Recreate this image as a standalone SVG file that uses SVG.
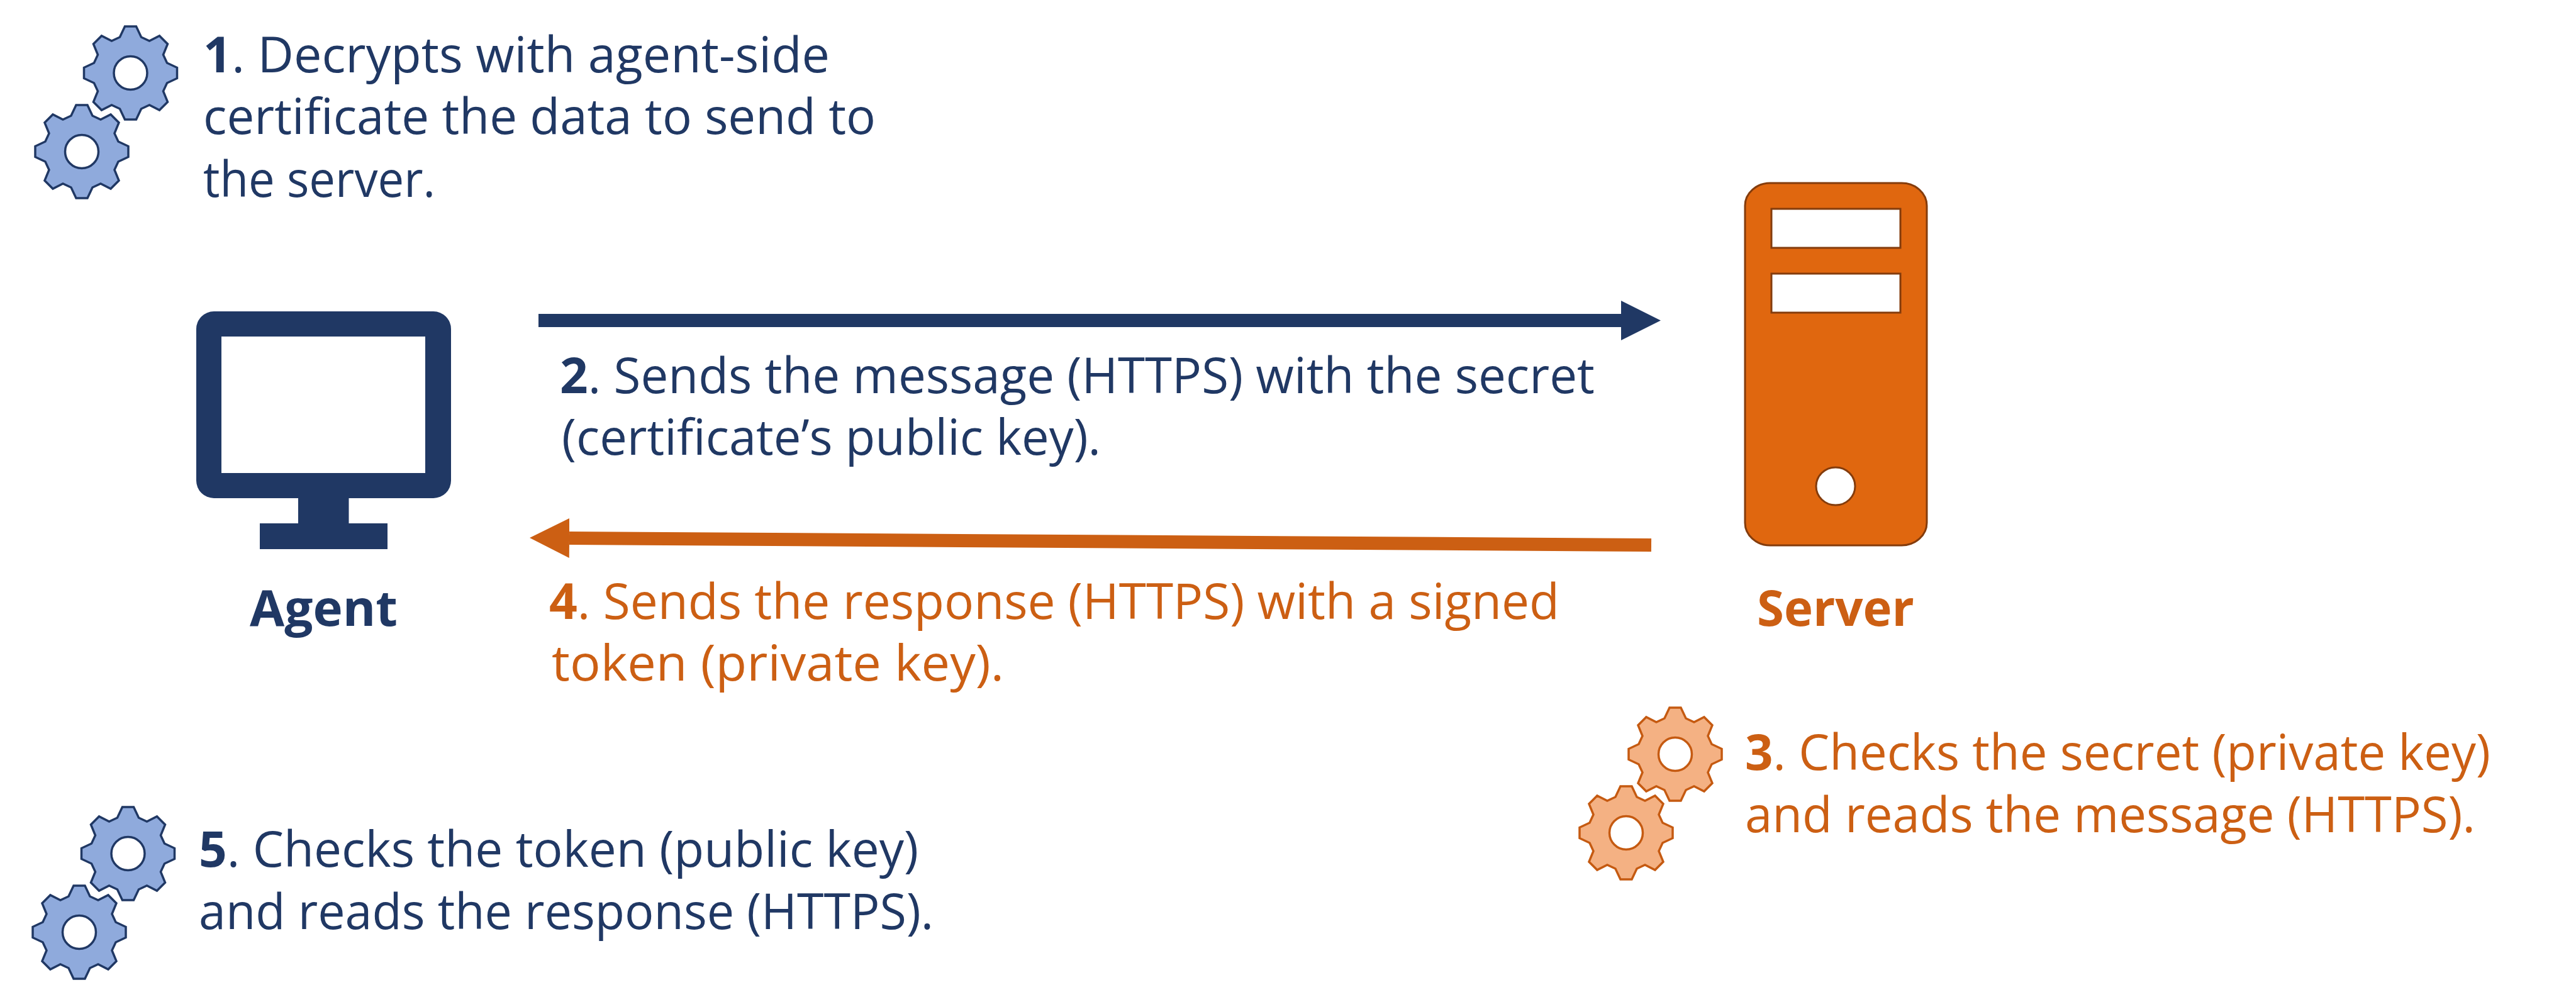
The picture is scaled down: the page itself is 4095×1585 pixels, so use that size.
<svg xmlns="http://www.w3.org/2000/svg" xmlns:xlink="http://www.w3.org/1999/xlink" width="4095" height="1585" viewBox="0 0 4095 1585">
<style>
text{font-family:"Open Sans","Noto Sans","Liberation Sans",sans-serif;font-size:79px}
.n{fill:#203864}.o{fill:#cc5f13}
.b{font-weight:700}
.gb{fill:#8faadc;stroke:#203864;stroke-width:3.5}
.go{fill:#f4b183;stroke:#c55a11;stroke-width:3.5}
.hb{fill:#fff;stroke:#203864;stroke-width:3.5}
.ho{fill:#fff;stroke:#c55a11;stroke-width:3.5}
.srv{fill:#e0670f;stroke:#843c0c;stroke-width:3}
.win{fill:#fff;stroke:#843c0c;stroke-width:3}
.arr{fill:none;stroke-width:21}
</style>
<defs>
<polygon id="gear" points="-9,-74 9,-74 17,-57 30,-51 46,-59 59,-46 52,-29 58,-16 74,-8.5 74,8.5 58,16 52,29 59,46 46,59 30,51 17,57 9,74 -9,74 -17,57 -30,51 -46,59 -59,46 -52,29 -58,16 -74,8.5 -74,-8.5 -58,-16 -52,-29 -59,-46 -46,-59 -30,-51 -17,-57"/>
<marker id="hn" markerUnits="userSpaceOnUse" markerWidth="63" markerHeight="63" viewBox="0 0 63 63" refX="0" refY="31.5" orient="auto"><path d="M0,0L63,31.5L0,63Z" fill="#203864"/></marker>
<marker id="ho" markerUnits="userSpaceOnUse" markerWidth="63" markerHeight="63" viewBox="0 0 63 63" refX="0" refY="31.5" orient="auto"><path d="M0,0L63,31.5L0,63Z" fill="#cc5f13"/></marker>
</defs>
<rect width="4095" height="1585" fill="#fff"/>
<g id="connectors">
<line class="arr" x1="856" y1="509.5" x2="2577" y2="509.5" stroke="#203864" marker-end="url(#hn)"/>
<line class="arr" x1="2625" y1="866.5" x2="905" y2="855.5" stroke="#cc5f13" marker-end="url(#ho)"/>
</g>
<g id="agent">
<path class="n" fill-rule="evenodd" d="M340,495H689A28,28 0 0 1 717,523V764A28,28 0 0 1 689,792H554.500V832H616V873H413V832H474V792H340A28,28 0 0 1 312,764V523A28,28 0 0 1 340,495ZM352,535V752H676V535Z"/>
<text class="n b" x="397" y="995" textLength="235" lengthAdjust="spacingAndGlyphs">Agent</text>
</g>
<g id="server">
<rect class="srv" x="2774" y="291" width="289" height="576" rx="40" ry="36"/>
<rect class="win" x="2816" y="332" width="205" height="62"/>
<rect class="win" x="2816" y="435" width="205" height="62"/>
<ellipse class="win" cx="2918" cy="773" rx="31" ry="30"/>
<text class="o b" x="2793" y="995" textLength="250" lengthAdjust="spacingAndGlyphs">Server</text>
</g>
<g id="step1">
<use href="#gear" class="gb" x="207.500" y="116"/><circle class="hb" cx="207.500" cy="116" r="26.500"/>
<use href="#gear" class="gb" x="130" y="241"/><circle class="hb" cx="130" cy="241" r="26.500"/>
<text class="n" x="323" y="115" textLength="996" lengthAdjust="spacingAndGlyphs"><tspan class="b">1</tspan>. Decrypts with agent-side</text>
<text class="n" x="323" y="213" textLength="1069" lengthAdjust="spacingAndGlyphs">certificate the data to send to</text>
<text class="n" x="323" y="313" textLength="369" lengthAdjust="spacingAndGlyphs">the server.</text>
</g>
<g id="step2">
<text class="n" x="890" y="625" textLength="1645" lengthAdjust="spacingAndGlyphs"><tspan class="b">2</tspan>. Sends the message (HTTPS) with the secret</text>
<text class="n" x="893" y="723" textLength="857" lengthAdjust="spacingAndGlyphs">(certificate’s public key).</text>
</g>
<g id="step3">
<use href="#gear" class="go" x="2663" y="1199"/><circle class="ho" cx="2663" cy="1199" r="26.500"/>
<use href="#gear" class="go" x="2585" y="1324"/><circle class="ho" cx="2585" cy="1324" r="26.500"/>
<text class="o" x="2774" y="1224" textLength="1185" lengthAdjust="spacingAndGlyphs"><tspan class="b">3</tspan>. Checks the secret (private key)</text>
<text class="o" x="2774" y="1323" textLength="1161" lengthAdjust="spacingAndGlyphs">and reads the message (HTTPS).</text>
</g>
<g id="step4">
<text class="o" x="873" y="984" textLength="1606" lengthAdjust="spacingAndGlyphs"><tspan class="b">4</tspan>. Sends the response (HTTPS) with a signed</text>
<text class="o" x="877" y="1082" textLength="719" lengthAdjust="spacingAndGlyphs">token (private key).</text>
</g>
<g id="step5">
<use href="#gear" class="gb" x="203.500" y="1357"/><circle class="hb" cx="203.500" cy="1357" r="26.500"/>
<use href="#gear" class="gb" x="126" y="1482"/><circle class="hb" cx="126" cy="1482" r="26.500"/>
<text class="n" x="316" y="1378" textLength="1144" lengthAdjust="spacingAndGlyphs"><tspan class="b">5</tspan>. Checks the token (public key)</text>
<text class="n" x="316" y="1477" textLength="1168" lengthAdjust="spacingAndGlyphs">and reads the response (HTTPS).</text>
</g>
</svg>
